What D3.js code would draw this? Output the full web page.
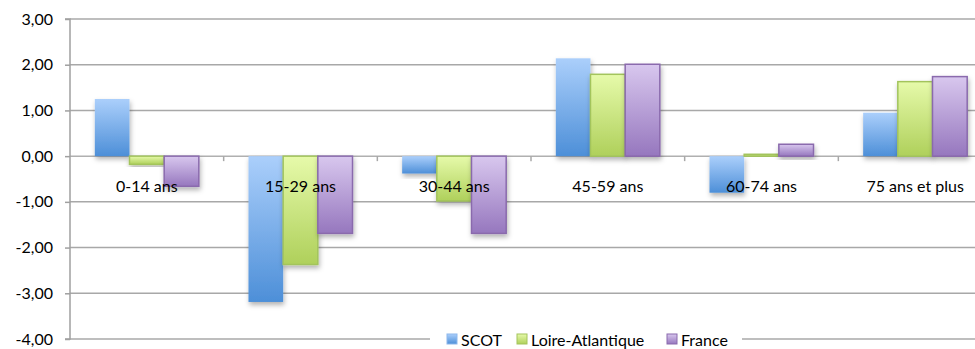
<!DOCTYPE html>
<html>
<head>
<meta charset="utf-8">
<script src="https://cdn.jsdelivr.net/npm/d3@7"></script>
<style>
  html, body { margin: 0; padding: 0; background: #fff; }
  svg { display: block; font-family: Lato, "Open Sans", sans-serif; }
</style>
</head>
<body>
<svg id="chart" width="975" height="349"></svg>
<script>
// Age groups and the change for each territory
const categories = ["0-14 ans", "15-29 ans", "30-44 ans", "45-59 ans", "60-74 ans", "75 ans et plus"];
const seriesNames = ["SCOT", "Loire-Atlantique", "France"];
const scotValues = [1.25, -3.19, -0.38, 2.14, -0.80, 0.95];
const loireValues = [-0.18, -2.37, -0.98, 1.79, 0.04, 1.63];
const franceValues = [-0.66, -1.69, -1.69, 2.01, 0.26, 1.74];
const yTicks = [3, 2, 1, 0, -1, -2, -3, -4];

const seriesValues = [scotValues, loireValues, franceValues];
const colors = {
  "SCOT": { top: "#abcffb", bottom: "#4d8fd8", stroke: "none" },
  "Loire-Atlantique": { top: "#e6faaa", bottom: "#afd05b", stroke: "#a3c45c" },
  "France": { top: "#d8c7ee", bottom: "#9677be", stroke: "#8a6aad" }
};

const svg = d3.select("#chart");
const plotLeft = 70, plotRight = 992, plotTop = 19, plotBottom = 339;
const fontSize = "16px";

const x0 = d3.scaleBand().domain(categories).range([plotLeft, plotRight]).padding(0);
const bw = x0.bandwidth();
const groupFrac = 0.677;
const x1 = d3.scaleBand().domain(seriesNames)
  .range([bw * (1 - groupFrac) / 2, bw * (1 + groupFrac) / 2]).padding(0);
const y = d3.scaleLinear().domain([-4, 3]).range([plotBottom, plotTop]);

const defs = svg.append("defs");
seriesNames.forEach((s, i) => {
  const g = defs.append("linearGradient").attr("id", "grad" + i)
    .attr("x1", 0).attr("y1", 0).attr("x2", 0).attr("y2", 1);
  g.append("stop").attr("offset", "0%").attr("stop-color", colors[s].top);
  g.append("stop").attr("offset", "100%").attr("stop-color", colors[s].bottom);
});
const f = defs.append("filter").attr("id", "shadow")
  .attr("x", "-30%").attr("y", "-30%").attr("width", "160%").attr("height", "160%");
f.append("feDropShadow").attr("dx", 1).attr("dy", 3).attr("stdDeviation", 2.5)
  .attr("flood-color", "#000").attr("flood-opacity", 0.3);

// Horizontal gridlines
svg.append("g").selectAll("line").data(yTicks.filter(d => d !== 0)).join("line")
  .attr("x1", plotLeft).attr("x2", 975)
  .attr("y1", d => y(d)).attr("y2", d => y(d))
  .attr("stroke", "#a8a8a8").attr("stroke-width", 1.5);

// Zero line with category ticks
const zero = svg.append("g");
zero.append("line").attr("x1", plotLeft).attr("x2", 975)
  .attr("y1", y(0)).attr("y2", y(0))
  .attr("stroke", "#b0b0b0").attr("stroke-width", 1.5);
zero.selectAll("line.tick").data(categories.slice(1)).join("line").attr("class", "tick")
  .attr("x1", d => x0(d)).attr("x2", d => x0(d))
  .attr("y1", y(0)).attr("y2", y(0) + 5)
  .attr("stroke", "#a8a8a8").attr("stroke-width", 1.5);

// Bars
const groups = svg.append("g").selectAll("g").data(categories).join("g")
  .attr("transform", d => `translate(${x0(d)},0)`);
groups.selectAll("rect")
  .data((c, ci) => seriesNames.map((s, si) => ({ s, si, v: seriesValues[si][ci] })))
  .join("rect")
  .attr("x", d => x1(d.s))
  .attr("width", x1.bandwidth())
  .attr("y", d => Math.min(y(d.v), y(0)))
  .attr("height", d => Math.max(1, Math.abs(y(d.v) - y(0))))
  .attr("fill", d => `url(#grad${d.si})`)
  .attr("stroke", d => colors[d.s].stroke)
  .attr("stroke-width", 1.5)
  .attr("filter", "url(#shadow)");

// Y axis
const yAxis = svg.append("g").attr("transform", `translate(${plotLeft},0)`)
  .call(d3.axisLeft(y).tickValues(yTicks).tickSize(5).tickPadding(12)
    .tickFormat(d => d3.format(".2f")(d).replace(".", ",").replace("−", "-")));
yAxis.select(".domain").attr("stroke", "#a0a0a0").attr("stroke-width", 1.5)
  .attr("d", `M-5,${plotTop}H0V${plotBottom}H-5`);
yAxis.selectAll(".tick line").attr("stroke", "#a0a0a0").attr("stroke-width", 1.5);
yAxis.selectAll(".tick text").attr("fill", "#000").style("font-size", fontSize)
  .style("font-family", "Lato, 'Open Sans', sans-serif");

// Category labels
svg.append("g").selectAll("text").data(categories).join("text")
  .attr("x", d => x0(d) + bw / 2)
  .attr("y", 191.5)
  .attr("text-anchor", "middle")
  .style("font-size", fontSize)
  .attr("fill", "#000")
  .text(d => d);

// Legend
const legend = svg.append("g");
legend.append("rect").attr("x", 430).attr("y", 328).attr("width", 312).attr("height", 21)
  .attr("fill", "#fff");
const legendX = [447, 517, 667];
seriesNames.forEach((s, i) => {
  legend.append("rect").attr("x", legendX[i]).attr("y", 334).attr("width", 10).attr("height", 10)
    .attr("fill", `url(#grad${i})`).attr("stroke", colors[s].stroke === "none" ? "#8db8ec" : colors[s].stroke)
    .attr("stroke-width", 1);
  legend.append("text").attr("x", legendX[i] + 14).attr("y", 345.5)
    .style("font-size", fontSize).attr("fill", "#000").text(s);
});
</script>
</body>
</html>
